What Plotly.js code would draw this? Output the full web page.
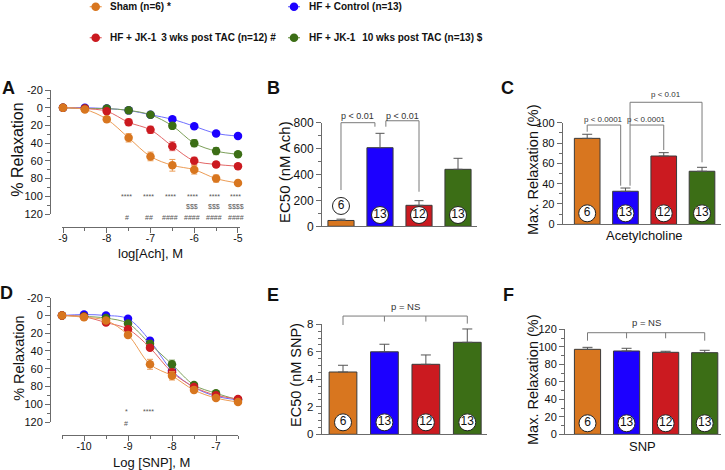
<!DOCTYPE html>
<html><head><meta charset="utf-8">
<script src="https://cdn.plot.ly/plotly-3.0.1.min.js"></script>
<style>html,body{margin:0;padding:0;background:#fff}#chart{width:725px;height:470px}</style>
</head><body><div id="chart"></div>
<script>
// ---------- DATA ----------
const groupNames = ['Sham', 'HF + Control', 'HF + JK-1 3 wks', 'HF + JK-1 10 wks'];
const legendLabels = ['Sham (n=6) *', 'HF + Control (n=13)', 'HF + JK-1 \u20093 wks post TAC (n=12) #', 'HF + JK-1 \u2009\u200910 wks post TAC (n=13) $'];
const nPerGroup = ['6', '13', '12', '13'];

// Panel A : acetylcholine concentration-response (% relaxation)
const achLogConc = [-9, -8.5, -8, -7.5, -7, -6.5, -6, -5.5, -5];
const achSham    = [0, 2, 13, 34, 55, 65, 70, 80, 85];
const achShamErr = [1, 1.5, 3, 4.7, 4.9, 6.6, 4.9, 4, 3];
const achHF      = [0, 0, 1, 3, 8, 13, 21, 29, 32];
const achHFErr   = [1, 1, 1, 1.5, 2, 2, 2, 2.5, 3];
const achJK3     = [0, 1, 4, 16.5, 25, 43.5, 60, 64, 66];
const achJK3Err  = [1, 1, 2, 3.7, 4, 5, 4, 3, 3];
const achJK10    = [0, 1, 1, 3, 8, 20.5, 40, 49, 52.5];
const achJK10Err = [1, 1, 1, 1.5, 2, 3, 4, 4, 3];
const achTickVals = [-9, -8, -7, -6, -5];
const achTickText = ['-9', '-8', '-7', '-6', '-5'];
const achStarX = [-7.5, -7, -6.5, -6, -5.5, -5];
const achStarTxt = ['****', '****', '****', '****', '****', '****'];
const achDollarX = [-6, -5.5, -5];
const achDollarTxt = ['$$$', '$$$', '$$$$'];
const achHashX = [-7.5, -7, -6.5, -6, -5.5, -5];
const achHashTxt = ['#', '##', '####', '####', '####', '####'];

// Panel D : SNP concentration-response (% relaxation)
const snpLogConc = [-10.5, -10, -9.5, -9, -8.5, -8, -7.5, -7, -6.5];
const snpSham    = [0, 2, 5.6, 22, 55, 68, 84, 93, 97.5];
const snpShamErr = [1, 1, 2, 3, 5.6, 4.7, 3, 2, 2];
const snpHF      = [0, -1, 0, 3.8, 28.5, 62, 81, 91, 95];
const snpHFErr   = [1, 1, 1.5, 2, 3, 3, 2.5, 2, 2];
const snpJK3     = [0, 1.5, 8, 15.4, 36.4, 64, 80.5, 89.8, 94];
const snpJK3Err  = [1, 1, 2, 3, 3, 3, 2.5, 2, 2];
const snpJK10    = [0, 1, 3, 9, 32, 55, 78.3, 87.6, 95];
const snpJK10Err = [1, 1, 1.5, 2, 3, 4.7, 2.5, 2, 2];
const snpTickVals = [-10, -9, -8, -7];
const snpTickText = ['-10', '-9', '-8', '-7'];
const snpStarX = [-9, -8.5];
const snpStarTxt = ['*', '****'];
const snpHashX = [-9];
const snpHashTxt = ['#'];

// Bar panels
const ec50Ach = [45, 607, 162, 440];
const ec50AchErr = [10, 111, 36, 85];
const maxRelAch = [84.6, 32.5, 67.2, 52.2];
const maxRelAchErr = [4, 3.2, 3.3, 3.9];
const ec50Snp = [4.53, 6.0, 5.09, 6.69];
const ec50SnpErr = [0.49, 0.55, 0.68, 0.97];
const maxRelSnp = [97.1, 95.2, 93.7, 93.3];
const maxRelSnpErr = [2.3, 3.1, 1.2, 2.7];
const barPos = [0, 1, 2, 3];

const relTickVals = [-20, 0, 20, 40, 60, 80, 100, 120];
const relTickText = ['-20', '0', '20', '40', '60', '80', '100', '120'];

// ---------- STYLE / LAYOUT HELPERS ----------
const W = 725, H = 470;
const fx = p => p / W, fy = p => 1 - p / H;
const FONT = 'Arial, "Liberation Sans", Helvetica, sans-serif';
const AXC = '#6b6b6b';
const colors = ['#D8761F', '#1C00FF', '#CB1A20', '#3C6E16'];
const lightColors = ['#EC9C55', '#6F6FFF', '#E36666', '#7DA05A'];

const axBase = {
  showline: true, linecolor: AXC, linewidth: 1, ticks: 'outside', tickcolor: AXC,
  tickwidth: 1, ticklen: 5, showgrid: false, zeroline: false, fixedrange: true,
  tickfont: {family: FONT, size: 11, color: '#111'}
};
const minorOf = (d, t0) => ({dtick: d, tick0: t0, ticklen: 3, tickcolor: AXC, ticks: 'outside', showgrid: false});

const traces = [];
const drawOrder = [1, 3, 2, 0];

function addCurves(xArr, ys, errs, xa, ya) {
  drawOrder.forEach(i => {
    traces.push({
      type: 'scatter', mode: 'lines+markers', x: xArr, y: ys[i], xaxis: xa, yaxis: ya,
      name: groupNames[i], showlegend: false, cliponaxis: false,
      line: {shape: 'spline', smoothing: 1, width: 1, color: lightColors[i]},
      marker: {size: 8.5, color: colors[i]},
      error_y: {type: 'data', array: errs[i], color: lightColors[i], thickness: 1, width: 3}
    });
  });
}
addCurves(achLogConc, [achSham, achHF, achJK3, achJK10], [achShamErr, achHFErr, achJK3Err, achJK10Err], 'x', 'y');
addCurves(snpLogConc, [snpSham, snpHF, snpJK3, snpJK10], [snpShamErr, snpHFErr, snpJK3Err, snpJK10Err], 'x4', 'y4');

function addBars(vals, errs, xa, ya, labelY, capW) {
  traces.push({
    type: 'bar', x: barPos, y: vals, xaxis: xa, yaxis: ya, width: 0.67, showlegend: false,
    marker: {color: colors, line: {color: '#3a3a3a', width: 1}},
    error_y: {type: 'data', symmetric: false, array: errs, arrayminus: vals.map(() => 0),
              color: '#555', thickness: 1, width: capW}
  });
  traces.push({
    type: 'scatter', mode: 'markers+text', x: barPos, y: labelY, xaxis: xa, yaxis: ya,
    text: nPerGroup, textposition: 'middle center', cliponaxis: false, showlegend: false,
    textfont: {family: FONT, size: 12, color: '#111'},
    marker: {size: 17, color: '#fff', line: {color: '#222', width: 1}}
  });
}
addBars(ec50Ach, ec50AchErr, 'x2', 'y2', ec50Ach.map((v, i) => v + ec50AchErr[i] < 120 ? 157 : 87), 4.5);
addBars(maxRelAch, maxRelAchErr, 'x3', 'y3', maxRelAch.map(() => 10.8), 5);
addBars(ec50Snp, ec50SnpErr, 'x5', 'y5', ec50Snp.map(() => 0.87), 5);
addBars(maxRelSnp, maxRelSnpErr, 'x6', 'y6', maxRelSnp.map(() => 12.6), 5);

// ---------- annotations & shapes ----------
const ann = [];
const shapes = [];
function txt(text, x, y, opts) {
  ann.push(Object.assign({text: text, x: x, y: y, xref: 'paper', yref: 'paper', showarrow: false,
    xanchor: 'center', yanchor: 'middle', font: {family: FONT, size: 14, color: '#111'}}, opts || {}));
}
// panel letters
[['A', 8.3, 88.3], ['B', 273.3, 88], ['C', 507.5, 88.3], ['D', 6.5, 293.3], ['E', 272.8, 294.7], ['F', 508, 295]]
  .forEach(p => txt('<b>' + p[0] + '</b>', fx(p[1]), fy(p[2]), {font: {family: FONT, size: 18, color: '#111'}}));
// axis titles
txt('% Relaxation', fx(16.7), fy(150), {textangle: -90, font: {family: FONT, size: 16, color: '#111'}});
txt('log[Ach], M', fx(150), fy(253), {font: {family: FONT, size: 13, color: '#111'}});
txt('EC50 (nM Ach)', fx(284), fy(172), {textangle: -90, font: {family: FONT, size: 15, color: '#111'}});
txt('Max. Relaxation (%)', fx(533), fy(170), {textangle: -90, font: {family: FONT, size: 14.5, color: '#111'}});
txt('Acetylcholine', fx(644), fy(235), {font: {family: FONT, size: 13, color: '#111'}});
txt('% Relaxation', fx(18.8), fy(358), {textangle: -90, font: {family: FONT, size: 14.5, color: '#111'}});
txt('Log [SNP], M', fx(151), fy(462), {font: {family: FONT, size: 13, color: '#111'}});
txt('EC50 (nM SNP)', fx(296), fy(375), {textangle: -90, font: {family: FONT, size: 14.5, color: '#111'}});
txt('Max. Relaxation (%)', fx(533), fy(380), {textangle: -90, font: {family: FONT, size: 14.5, color: '#111'}});
txt('SNP', fx(642), fy(446), {font: {family: FONT, size: 13, color: '#111'}});

// significance marks (domain fraction for reversed -20..120 axis)
const relFrac = v => (120 - v) / 140;
function sig(xs, labels, v, xa, ya) {
  xs.forEach((x, i) => ann.push({text: labels[i], x: x, y: relFrac(v), xref: xa, yref: ya + ' domain',
    showarrow: false, xanchor: 'center', yanchor: 'middle', xshift: -2,
    font: {family: FONT, size: 7, color: '#555'}}));
}
sig(achStarX, achStarTxt, 100.5, 'x', 'y');
sig(achDollarX, achDollarTxt, 111.5, 'x', 'y');
sig(achHashX, achHashTxt, 124, 'x', 'y');
sig(snpStarX, snpStarTxt, 108.5, 'x4', 'y4');
sig(snpHashX, snpHashTxt, 122, 'x4', 'y4');

// brackets (y in domain fraction of each bar panel)
const BR = '#7a7a7a';
function seg(xa, ya, x0, y0, x1, y1) {
  shapes.push({type: 'line', xref: xa, yref: ya + ' domain', x0: x0, x1: x1, y0: y0, y1: y1,
    line: {color: BR, width: 1}});
}
function bracket(xa, ya, ymax, x0, x1, top, b0, b1, label, ty, fs, mids, midB) {
  seg(xa, ya, x0, b0 / ymax, x0, top / ymax);
  seg(xa, ya, x0, top / ymax, x1, top / ymax);
  seg(xa, ya, x1, top / ymax, x1, b1 / ymax);
  (mids || []).forEach(m => seg(xa, ya, m, top / ymax, m, midB / ymax));
  ann.push({text: label, x: (x0 + x1) / 2, y: ty / ymax, xref: xa, yref: ya + ' domain', showarrow: false,
    xanchor: 'center', yanchor: 'middle', font: {family: FONT, size: fs, color: '#333'}});
}
bracket('x2', 'y2', 800, 0, 0.87, 800, 280, 769, 'p < 0.01', 852, 9);
bracket('x2', 'y2', 800, 1.15, 2.0, 815, 769, 267, 'p < 0.01', 854, 9);
bracket('x3', 'y3', 100, 0, 0.875, 97.7, 91.1, 38, 'p < 0.0001', 103.3, 8);
bracket('x3', 'y3', 100, 1.12, 2.0, 97.7, 38, 73.1, 'p < 0.0001', 103.3, 8);
bracket('x3', 'y3', 100, 1.12, 3.0, 120.1, 97.7, 61, 'p < 0.01', 127.3, 8);
bracket('x5', 'y5', 8, 0, 3, 8.6, 7.95, 8.05, 'p = NS', 9.33, 9.5, [1, 2], 8.2);
bracket('x6', 'y6', 120, 0, 3, 116.1, 107, 107, 'p = NS', 127.5, 9.5, [1, 2], 109.7);

// legend (manual, two columns)
const legPos = [[95.7, 6.7], [294, 6.7], [95.7, 37.7], [294, 37.7]];
legPos.forEach((p, i) => {
  shapes.push({type: 'line', xref: 'paper', yref: 'paper', xsizemode: 'pixel', ysizemode: 'pixel',
    xanchor: fx(p[0]), yanchor: fy(p[1]), x0: -6, x1: 6, y0: 0, y1: 0, line: {color: lightColors[i], width: 1.2}});
  shapes.push({type: 'circle', xref: 'paper', yref: 'paper', xsizemode: 'pixel', ysizemode: 'pixel',
    xanchor: fx(p[0]), yanchor: fy(p[1]), x0: -4.3, x1: 4.3, y0: -4.3, y1: 4.3,
    fillcolor: colors[i], line: {color: colors[i], width: 0}});
  txt('<b>' + legendLabels[i] + '</b>', fx(p[0] + 12.6), fy(p[1]), {xanchor: 'left',
    font: {family: FONT, size: 10, color: '#111'}});
});

// ---------- AXES ----------
const layout = {
  width: W, height: H, margin: {l: 0, r: 0, t: 0, b: 0}, paper_bgcolor: '#fff', plot_bgcolor: 'rgba(0,0,0,0)',
  showlegend: false, font: {family: FONT, color: '#111'},
  xaxis: Object.assign({}, axBase, {domain: [fx(62), fx(240)], range: [-9.023, -4.954], anchor: 'free', position: fy(227),
    tickvals: achTickVals, ticktext: achTickText, ticklabelstandoff: -4, tickfont: {family: FONT, size: 10.5, color: '#111'}, minor: minorOf(0.5, -9)}),
  yaxis: Object.assign({}, axBase, {domain: [fy(214), fy(90)], range: [120, -20], anchor: 'free', position: fx(50),
    tickvals: relTickVals, ticktext: relTickText, minor: minorOf(10, 0)}),
  xaxis4: Object.assign({}, axBase, {domain: [fx(62), fx(238)], range: [-10.5, -6.5], anchor: 'free', position: fy(435),
    tickvals: snpTickVals, ticktext: snpTickText, ticklabelstandoff: -4, tickfont: {family: FONT, size: 10.5, color: '#111'}, minor: minorOf(0.5, -10)}),
  yaxis4: Object.assign({}, axBase, {domain: [fy(422), fy(297.7)], range: [120, -20], anchor: 'free', position: fx(50),
    tickvals: relTickVals, ticktext: relTickText, minor: minorOf(10, 0)}),
  xaxis2: Object.assign({}, axBase, {domain: [fx(322), fx(477)], range: [-0.487, 3.487], anchor: 'y2', ticks: '', showticklabels: false}),
  yaxis2: Object.assign({}, axBase, {domain: [fy(226.3), fy(122.7)], range: [0, 800], anchor: 'x2', dtick: 200, tick0: 0,
    tickfont: {family: FONT, size: 12, color: '#111'}, minor: minorOf(100, 0)}),
  xaxis3: Object.assign({}, axBase, {domain: [fx(562.7), fx(721)], range: [-0.64, 3.496], anchor: 'y3', ticks: '', showticklabels: false}),
  yaxis3: Object.assign({}, axBase, {domain: [fy(224.3), fy(122.7)], range: [0, 100], anchor: 'x3', dtick: 20, tick0: 0,
    tickfont: {family: FONT, size: 11, color: '#111'}, minor: minorOf(10, 0)}),
  xaxis5: Object.assign({}, axBase, {domain: [fx(321.7), fx(487.3)], range: [-0.514, 3.483], anchor: 'y5', ticks: '', showticklabels: false}),
  yaxis5: Object.assign({}, axBase, {domain: [fy(434.3), fy(324.3)], range: [0, 8], anchor: 'x5', dtick: 2, tick0: 0,
    tickfont: {family: FONT, size: 11.5, color: '#111'}, minor: minorOf(0.5, 0)}),
  xaxis6: Object.assign({}, axBase, {domain: [fx(565), fx(721)], range: [-0.576, 3.417], anchor: 'y6', ticks: '', showticklabels: false}),
  yaxis6: Object.assign({}, axBase, {domain: [fy(434.3), fy(329.3)], range: [0, 120], anchor: 'x6', dtick: 20, tick0: 0,
    tickfont: {family: FONT, size: 11, color: '#111'}, minor: minorOf(10, 0)}),
  annotations: ann,
  shapes: shapes
};

Plotly.newPlot('chart', traces, layout, {staticPlot: true, displayModeBar: false});
</script>
</body></html>
